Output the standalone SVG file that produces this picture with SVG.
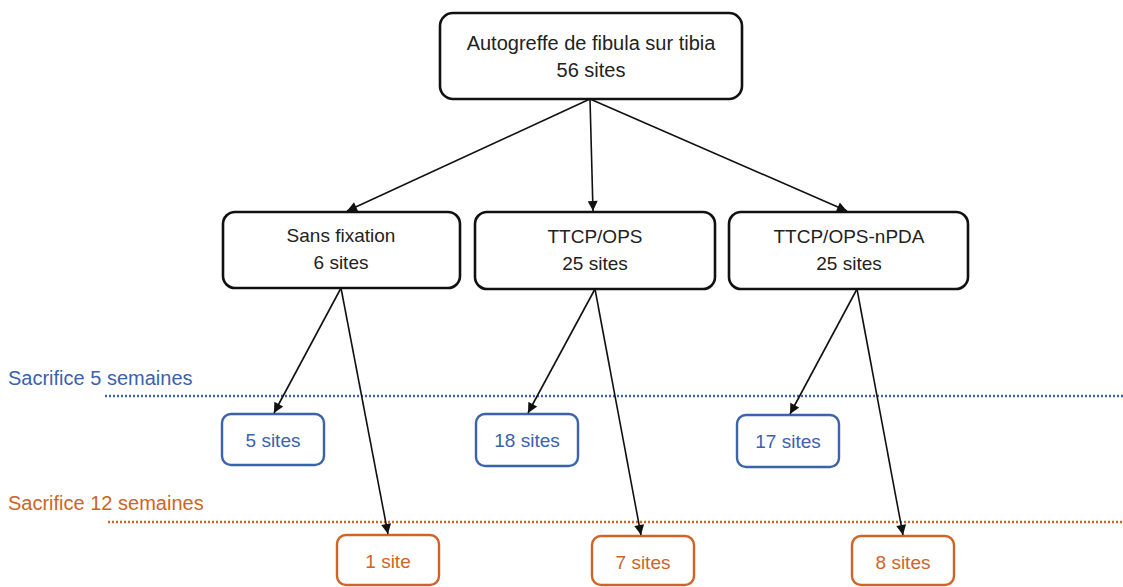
<svg xmlns="http://www.w3.org/2000/svg" width="1123" height="587" viewBox="0 0 1123 587">
<style>
text{font-family:"Liberation Sans",Arial,sans-serif;font-size:19px;text-anchor:middle}
.nb{fill:#fff;stroke:#111;stroke-width:2.6}
.bb{fill:#fff;stroke:#3a62ad;stroke-width:2.4}
.ob{fill:#fff;stroke:#cf6426;stroke-width:2.4}
.tk{fill:#222}
.tb{fill:#3a62ad}
.to{fill:#cf6426}
.lab{text-anchor:start;font-size:20px}
.conn line{stroke:#111;stroke-width:1.6;marker-end:url(#ah)}
.dot{stroke-width:2.6;stroke-dasharray:2 2;fill:none}
</style>
<defs>
<marker id="ah" viewBox="0 0 10 10" refX="10" refY="5" markerWidth="11" markerHeight="10" markerUnits="userSpaceOnUse" orient="auto">
<path d="M0,0 L10,5 L0,10 Z" fill="#111"/>
</marker>
</defs>
<rect width="1123" height="587" fill="#fff"/>
<g id="levels">
<text x="8" y="385" class="tb lab">Sacrifice 5 semaines</text>
<line x1="105" y1="396" x2="1123" y2="396" class="dot" stroke="#3a62ad"/>
<text x="8" y="510" class="to lab">Sacrifice 12 semaines</text>
<line x1="108" y1="522" x2="1123" y2="522" class="dot" stroke="#cf6426"/>
</g>
<g id="root">
<rect x="440" y="13" width="302" height="86" rx="13" class="nb"/>
<text x="591" y="50" class="tk" style="font-size:20px">Autogreffe de fibula sur tibia</text>
<text x="591" y="77" class="tk" style="font-size:20px">56 sites</text>
</g>
<g id="sans">
<rect x="223" y="212" width="237" height="76" rx="12" class="nb"/>
<text x="341" y="242" class="tk">Sans fixation</text>
<text x="341" y="269" class="tk">6 sites</text>
</g>
<g id="ttcp">
<rect x="475" y="212" width="240" height="77" rx="12" class="nb"/>
<text x="595" y="243" class="tk">TTCP/OPS</text>
<text x="595" y="270" class="tk">25 sites</text>
</g>
<g id="npda">
<rect x="729" y="212" width="239" height="77" rx="12" class="nb"/>
<text x="849" y="243" class="tk">TTCP/OPS-nPDA</text>
<text x="849" y="270" class="tk">25 sites</text>
</g>
<g id="s5a"><rect x="222" y="414" width="102" height="51" rx="9" class="bb"/><text x="273" y="447" class="tb">5 sites</text></g>
<g id="s5b"><rect x="476" y="414" width="102" height="52" rx="9" class="bb"/><text x="527" y="447" class="tb">18 sites</text></g>
<g id="s5c"><rect x="737" y="415" width="102" height="52" rx="9" class="bb"/><text x="788" y="448" class="tb">17 sites</text></g>
<g id="s12a"><rect x="337" y="535" width="102" height="50" rx="9" class="ob"/><text x="388" y="568" class="to">1 site</text></g>
<g id="s12b"><rect x="592" y="536" width="102" height="49" rx="9" class="ob"/><text x="643" y="569" class="to">7 sites</text></g>
<g id="s12c"><rect x="852" y="536" width="102" height="49" rx="9" class="ob"/><text x="903" y="569" class="to">8 sites</text></g>
<g id="connectors" class="conn">
<line x1="590" y1="99" x2="347" y2="211"/>
<line x1="590" y1="99" x2="593" y2="211"/>
<line x1="590" y1="99" x2="847" y2="211"/>
<line x1="341" y1="288" x2="274" y2="413"/>
<line x1="341" y1="288" x2="388" y2="534"/>
<line x1="595" y1="289" x2="528" y2="413"/>
<line x1="595" y1="289" x2="641" y2="535"/>
<line x1="857" y1="289" x2="790" y2="414"/>
<line x1="857" y1="289" x2="903" y2="535"/>
</g>
</svg>
